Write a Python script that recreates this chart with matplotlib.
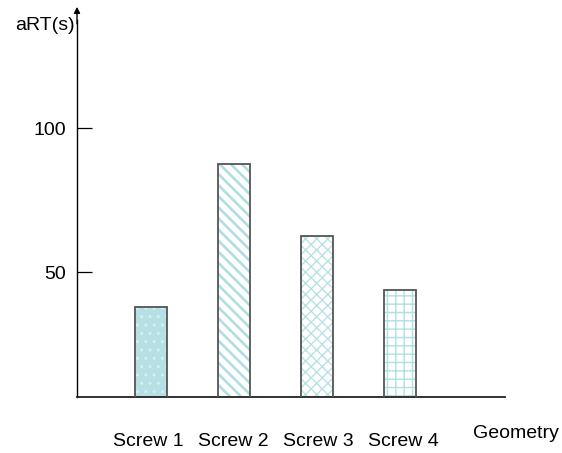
import numpy as np
import matplotlib
matplotlib.use('Agg')
import matplotlib.pyplot as plt

# Data
categories = ['Screw 1', 'Screw 2', 'Screw 3', 'Screw 4']
art_values = [37.8, 87.5, 62.6, 43.7]
y_ticks = [50, 100]

plt.rcParams['font.family'] = ['Liberation Sans', 'DejaVu Sans']
plt.rcParams['hatch.linewidth'] = 1.0

fig = plt.figure(figsize=(5.62, 4.53), dpi=100)
ax = fig.add_axes([77 / 562, 1 - 397 / 453, (505 - 77) / 562, (397 - 20) / 453])

x = np.arange(1, len(categories) + 1)
width = 0.386
hatches = ['..', '\\\\\\', 'xxx', '++']
hatch_lw = [1.0, 1.9, 1.0, 1.0]
faces = ['#b6e0e4', 'white', 'white', 'white']
hatch_col = ['#d6eff1', '#b0dee2', '#b8e2e6', '#b0e0e4']

for xi, v, h, lw, fc, hc in zip(x, art_values, hatches, hatch_lw, faces, hatch_col):
    # fill + hatch first, outline on top
    with plt.rc_context({'hatch.linewidth': lw}):
        ax.bar(xi, v, width, facecolor=fc, edgecolor=hc, hatch=h, linewidth=0, zorder=2)
    ax.bar(xi, v, width, facecolor='none', edgecolor='#555555', linewidth=1.3, zorder=3)

ax.set_xlim(0.112, 5.27)
ax.set_ylim(6.6, (416 - 20) / 2.88)

ax.spines['top'].set_visible(False)
ax.spines['right'].set_visible(False)
ax.spines['left'].set_linewidth(1.0)
ax.spines['bottom'].set_linewidth(1.3)
ax.spines['bottom'].set_color('#222222')

ax.set_yticks(y_ticks)
ax.set_yticklabels([str(t) for t in y_ticks], fontsize=14)
ax.tick_params(axis='y', direction='in', length=11, width=0.9, pad=8)

ax.set_xticks(x * 1.025 - 0.055)
ax.set_xticklabels(categories, fontsize=14)
ax.tick_params(axis='x', length=0, pad=26)

# arrow on top of y axis
ax.annotate('', xy=(0, 1.035), xytext=(0, 0.99), xycoords='axes fraction',
            arrowprops=dict(arrowstyle='-|>', color='black', lw=1.0,
                            mutation_scale=9, shrinkA=0, shrinkB=0),
            annotation_clip=False)

fig.text(15 / 562, 1 - 25 / 453, 'aRT(s)', fontsize=14, va='center', ha='left')
fig.text(516 / 562, 1 - 434 / 453, 'Geometry', fontsize=14, va='center', ha='center')

fig.savefig('out.png', dpi=100)
